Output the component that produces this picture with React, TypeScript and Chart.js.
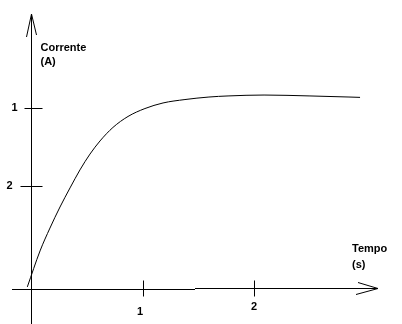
import React, { useEffect, useRef } from "react";
import { Chart, registerables } from "chart.js";

Chart.register(...registerables);

// Curve data: time (s) vs current (A)
const timeS = [-0.033, 0.081, 0.17, 0.26, 0.35, 0.439, 0.529, 0.619, 0.735, 0.87, 1.022, 1.184, 1.381, 1.596, 1.767, 2.09, 2.502, 2.852, 2.951];
const currentA = [0.006, 0.206, 0.333, 0.45, 0.556, 0.656, 0.744, 0.817, 0.892, 0.953, 0.997, 1.028, 1.047, 1.061, 1.067, 1.072, 1.067, 1.061, 1.059];

// Tick positions and labels
const xTickValues = [1, 2];
const xTickLabels = ["1", "2"];
const yTickValues = [1, 0.567];
const yTickLabels = ["1", "2"];

// Axis titles
const yTitle = ["Corrente", "(A)"];
const xTitle = ["Tempo", "(s)"];

// Axis extents (data units)
const xAxisFrom = -0.17;
const xAxisTo = 3.11;
const yAxisFrom = -0.2;
const yAxisTo = 1.522;

const axesPlugin = {
  id: "handAxes",
  afterDatasetsDraw(chart: any) {
    const ctx = chart.ctx;
    const xs = chart.scales.x;
    const ys = chart.scales.y;
    const px = (v: number) => xs.getPixelForValue(v);
    const py = (v: number) => ys.getPixelForValue(v);
    const ox = Math.round(px(0)) + 0.5;
    const oy = Math.round(py(0)) + 0.5;
    ctx.save();
    ctx.strokeStyle = "#000";
    ctx.lineWidth = 1;
    ctx.beginPath();
    // y axis
    const yTop = Math.round(py(yAxisTo));
    ctx.moveTo(ox, Math.round(py(yAxisFrom)));
    ctx.lineTo(ox, yTop);
    // y arrow
    ctx.moveTo(ox - 5, yTop + 23);
    ctx.lineTo(ox, yTop);
    ctx.lineTo(ox + 5, yTop + 21);
    // x axis (slight step like the original)
    const xEnd = Math.round(px(xAxisTo));
    const xStep = Math.round(px(1.47));
    ctx.moveTo(Math.round(px(xAxisFrom)), oy + 1);
    ctx.lineTo(xStep, oy + 1);
    ctx.moveTo(xStep, oy);
    ctx.lineTo(xEnd, oy);
    // x arrow
    ctx.moveTo(xEnd - 20, oy - 6);
    ctx.lineTo(xEnd, oy);
    ctx.lineTo(xEnd - 22, oy + 6);
    // x ticks
    xTickValues.forEach((v) => {
      const x = Math.round(px(v)) + 0.5;
      ctx.moveTo(x, oy - 8);
      ctx.lineTo(x, oy + 8);
    });
    // y ticks
    yTickValues.forEach((v, i) => {
      const y = Math.round(py(v)) + 0.5;
      ctx.moveTo(ox - (i === 0 ? 7 : 11), y);
      ctx.lineTo(ox + 11, y);
    });
    ctx.stroke();

    ctx.fillStyle = "#000";
    ctx.font = "bold 11px 'Liberation Sans', Arial, sans-serif";
    ctx.textBaseline = "middle";
    ctx.textAlign = "center";
    xTickValues.forEach((v, i) => {
      const x = Math.round(px(v));
      ctx.fillText(xTickLabels[i], x - (i === 0 ? 3 : 0), oy + (i === 0 ? 23 : 18));
    });
    yTickValues.forEach((v, i) => {
      const y = Math.round(py(v));
      ctx.fillText(yTickLabels[i], ox - (i === 0 ? 17 : 22), y);
    });
    ctx.textAlign = "left";
    ctx.fillText(yTitle[0], ox + 9, Math.round(py(yAxisTo)) + 34);
    ctx.fillText(yTitle[1], ox + 9, Math.round(py(yAxisTo)) + 48);
    ctx.fillText(xTitle[0], xEnd - 26, oy - 40);
    ctx.fillText(xTitle[1], xEnd - 26, oy - 24);
    ctx.restore();
  },
};

export default function App() {
  const ref = useRef<HTMLCanvasElement | null>(null);
  useEffect(() => {
    if (!ref.current) return;
    const chart = new Chart(ref.current, {
      type: "line",
      data: {
        datasets: [
          {
            data: timeS.map((t, i) => ({ x: t, y: currentA[i] })),
            borderColor: "#000",
            borderWidth: 1,
            pointRadius: 0,
            cubicInterpolationMode: "monotone",
            fill: false,
          },
        ],
      },
      options: {
        animation: false,
        responsive: false,
        devicePixelRatio: 1,
        layout: { padding: 0 },
        plugins: { legend: { display: false }, tooltip: { enabled: false }, title: { display: false } },
        scales: {
          x: { type: "linear", display: false, min: -31 / 111.5, max: 371 / 111.5 },
          y: { type: "linear", display: false, min: -0.2, max: 1.6 },
        },
      },
      plugins: [axesPlugin],
    });
    return () => chart.destroy();
  }, []);
  return (
    <div style={{ position: "fixed", left: 0, top: 0, width: 402, height: 324, background: "#fff" }}>
      <canvas ref={ref} width={402} height={324} style={{ display: "block" }} />
    </div>
  );
}
